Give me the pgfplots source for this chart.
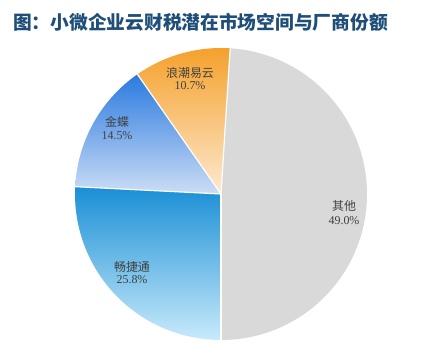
\documentclass[border=0pt]{standalone}
\usepackage{pgfplots}
\pgfplotsset{compat=1.18}
\usepackage{fontspec}
\setmainfont{Liberation Serif}
\newfontfamily\cjk{Noto Sans CJK SC}
\definecolor{titlec}{HTML}{1F4E79}
\definecolor{labc}{HTML}{404040}
\definecolor{grayc}{HTML}{D9D9D9}
\definecolor{orT}{HTML}{F5A02A}
\definecolor{orB}{HTML}{FDE9D0}
\definecolor{jdT}{HTML}{2A7AE0}
\definecolor{jdB}{HTML}{CCDDF5}
\definecolor{cjT}{HTML}{1A8FD5}
\definecolor{cjB}{HTML}{C8EAFB}
\begin{document}
\begin{tikzpicture}
% shares (percent), drawn counter-clockwise from the bottom
\def\sQita{49.0}
\def\sLangchao{10.7}
\def\sJindie{14.5}
\def\sChangjie{25.8}
\pgfmathsetmacro\aA{-90}
\pgfmathsetmacro\aB{\aA+\sQita*3.6}
\pgfmathsetmacro\aC{\aB+\sLangchao*3.6}
\pgfmathsetmacro\aD{\aC+\sJindie*3.6}
\pgfmathsetmacro\aE{\aD+\sChangjie*3.6}
\def\pieR{146bp}
\begin{axis}[
  width=425bp, height=355bp, scale only axis,
  xmin=0, xmax=425, ymin=0, ymax=355,
  enlargelimits=false, hide axis, clip=false]
\path (axis cs:0,0) rectangle (axis cs:425,355);
% 其他
\fill[grayc] (axis cs:221,161) -- ++(\aA:\pieR) arc[start angle=\aA, end angle=\aB, radius=\pieR] -- cycle;
% 浪潮易云
\shade[top color=orT, bottom color=orB] (axis cs:221,161) -- ++(\aB:\pieR) arc[start angle=\aB, end angle=\aC, radius=\pieR] -- cycle;
% 金蝶
\shade[top color=jdT, bottom color=jdB] (axis cs:221,161) -- ++(\aC:\pieR) arc[start angle=\aC, end angle=\aD, radius=\pieR] -- cycle;
% 畅捷通
\shade[top color=cjT, bottom color=cjB] (axis cs:221,161) -- ++(\aD:\pieR) arc[start angle=\aD, end angle=\aE, radius=\pieR] -- cycle;
% separators
\draw[white, line width=1.2pt] (axis cs:221,161) -- ++(\aA:\pieR);
\draw[white, line width=1.2pt] (axis cs:221,161) -- ++(\aB:\pieR);
\draw[white, line width=1.2pt] (axis cs:221,161) -- ++(\aC:\pieR);
\draw[white, line width=1.2pt] (axis cs:221,161) -- ++(\aD:\pieR);
% labels
\node[text=labc, font=\cjk\fontsize{12}{14}\selectfont] at (axis cs:190,282) {浪潮易云};
\node[text=labc, font=\fontsize{12}{14}\selectfont] at (axis cs:190,269) {\sLangchao\%};
\node[text=labc, font=\cjk\fontsize{12}{14}\selectfont] at (axis cs:117,233) {金蝶};
\node[text=labc, font=\fontsize{12}{14}\selectfont] at (axis cs:117,219) {\sJindie\%};
\node[text=labc, font=\cjk\fontsize{12}{14}\selectfont] at (axis cs:132,88) {畅捷通};
\node[text=labc, font=\fontsize{12}{14}\selectfont] at (axis cs:132,75) {\sChangjie\%};
\node[text=labc, font=\cjk\fontsize{12}{14}\selectfont] at (axis cs:344,149) {其他};
\node[text=labc, font=\fontsize{12}{14}\selectfont] at (axis cs:344,134) {\sQita\%};
% title
\node[anchor=west, inner sep=0pt, text=titlec, font=\cjk\bfseries\fontsize{18.8}{20}\selectfont] at (axis cs:13,333) {图：小微企业云财税潜在市场空间与厂商份额};
\end{axis}
\end{tikzpicture}
\end{document}
